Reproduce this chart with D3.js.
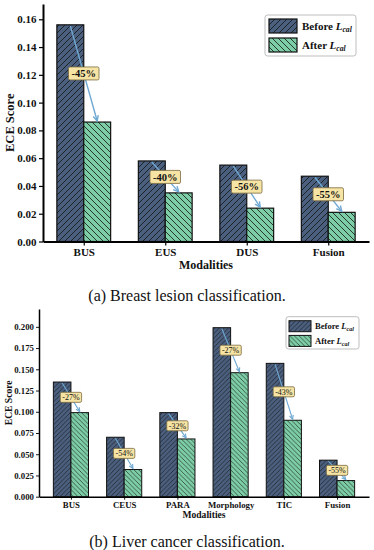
<!DOCTYPE html>
<html>
<head>
<meta charset="utf-8">
<script src="https://cdn.jsdelivr.net/npm/d3@7"></script>
<style>
    body { margin: 0; background: #fff; }
</style>
</head>
<body>
<div class="osvg"></div>
<script>
// (a) breast lesion
var breastCats = ["BUS", "EUS", "DUS", "Fusion"];
var breastBefore = [0.156, 0.058, 0.055, 0.047];
var breastAfter = [0.086, 0.035, 0.024, 0.021];
var breastDrops = ["-45%", "-40%", "-56%", "-55%"];
var breastTicks = [0, 0.02, 0.04, 0.06, 0.08, 0.10, 0.12, 0.14, 0.16];

// (b) liver cancer
var liverCats = ["BUS", "CEUS", "PARA", "Morphology", "TIC", "Fusion"];
var liverBefore = [0.135, 0.070, 0.099, 0.199, 0.157, 0.043];
var liverAfter = [0.099, 0.032, 0.068, 0.146, 0.090, 0.019];
var liverDrops = ["-27%", "-54%", "-32%", "-27%", "-43%", "-55%"];
var liverTicks = [0, 0.025, 0.05, 0.075, 0.1, 0.125, 0.15, 0.175, 0.2];

var colBefore = "#4b5f7e";
var colAfter = "#7dcea6";
var FONT = '"Liberation Serif", "Times New Roman", "DejaVu Serif"';

var svg = d3.select('.osvg').append("svg")
    .attr("width", 374)
    .attr("height", 550)
    .style("font-family", FONT);

var defs = svg.append("defs");

function hatch(id, color, size, dir, sw) {
    var p = defs.append("pattern")
        .attr("id", id)
        .attr("patternUnits", "userSpaceOnUse")
        .attr("width", size)
        .attr("height", size);
    p.append("rect").attr("width", size).attr("height", size).attr("fill", color);
    var s = size, d;
    if (dir == "/") {
        d = "M0," + s + "L" + s + ",0M" + (-s / 2) + "," + (s / 2) + "L" + (s / 2) + "," + (-s / 2) +
            "M" + (s / 2) + "," + (1.5 * s) + "L" + (1.5 * s) + "," + (s / 2);
    } else {
        d = "M0,0L" + s + "," + s + "M" + (-s / 2) + "," + (s / 2) + "L" + (s / 2) + "," + (1.5 * s) +
            "M" + (s / 2) + "," + (-s / 2) + "L" + (1.5 * s) + "," + (s / 2);
    }
    p.append("path").attr("d", d).attr("stroke", "#111").attr("stroke-width", sw).attr("fill", "none");
}

hatch("hb1", colBefore, 6, "/", 0.8);
hatch("ha1", colAfter, 6, "\\", 0.8);
hatch("hb2", colBefore, 4.6, "/", 0.6);
hatch("ha2", colAfter, 4.6, "\\", 0.6);

function txt(sel) {
    return sel.append("text").style("font-family", FONT).attr("fill", "#111");
}

function panel(c) {
    var x = d3.scaleLinear()
        .domain([-c.xpad, c.cats.length - 1 + c.xpad])
        .range([c.left, c.right]);

    var y = d3.scaleLinear()
        .domain([0, c.ymax])
        .range([c.bottom, c.top]);

    var w = x(c.barW) - x(0);
    var g = svg.append("g");

    // bars
    var rows = c.cats.map(function (d, i) {
        return { i: i, b: c.before[i], a: c.after[i], drop: c.drops[i] };
    });

    g.selectAll(".bb").data(rows).enter().append("rect")
        .attr("x", function (d) { return x(d.i) - w; })
        .attr("y", function (d) { return y(d.b); })
        .attr("width", w)
        .attr("height", function (d) { return y(0) - y(d.b); })
        .attr("fill", "url(#" + c.hb + ")")
        .attr("stroke", "#111")
        .attr("stroke-width", c.barSW);

    g.selectAll(".ba").data(rows).enter().append("rect")
        .attr("x", function (d) { return x(d.i); })
        .attr("y", function (d) { return y(d.a); })
        .attr("width", w)
        .attr("height", function (d) { return y(0) - y(d.a); })
        .attr("fill", "url(#" + c.ha + ")")
        .attr("stroke", "#111")
        .attr("stroke-width", c.barSW);

    // arrows
    rows.forEach(function (d) {
        var x0 = x(d.i) - w / 2, y0 = y(d.b) + 1,
            x1 = x(d.i) + w / 2, y1 = y(d.a) - 1;
        var ang = Math.atan2(y1 - y0, x1 - x0);
        var hl = c.head;
        g.append("line")
            .attr("x1", x0).attr("y1", y0)
            .attr("x2", x1).attr("y2", y1)
            .attr("stroke", "#6fa9d4")
            .attr("stroke-width", c.arrowSW);
        var p1 = [x1 - hl * Math.cos(ang - 0.45), y1 - hl * Math.sin(ang - 0.45)];
        var p2 = [x1 - hl * Math.cos(ang + 0.45), y1 - hl * Math.sin(ang + 0.45)];
        g.append("path")
            .attr("d", "M" + p1 + "L" + x1 + "," + y1 + "L" + p2)
            .attr("fill", "none")
            .attr("stroke", "#6fa9d4")
            .attr("stroke-width", c.arrowSW);

        // label box at the middle of the arrow
        var mx = (x0 + x1) / 2, my = (y0 + y1) / 2;
        var box = g.append("rect");
        var t = txt(g)
            .attr("x", mx)
            .attr("y", my)
            .attr("dy", "0.35em")
            .attr("text-anchor", "middle")
            .attr("font-size", c.labelFS)
            .attr("font-weight", c.labelFW)
            .text(d.drop);
        var tw = t.node().getComputedTextLength();
        box.attr("x", mx - tw / 2 - c.boxPad)
            .attr("y", my - c.boxH / 2)
            .attr("width", tw + 2 * c.boxPad)
            .attr("height", c.boxH)
            .attr("rx", 1.5)
            .attr("fill", "#f6e4a4")
            .attr("stroke", "#7a6a40")
            .attr("stroke-width", 0.8);
    });

    // axes
    var gx = g.append("g")
        .attr("transform", "translate(0," + c.bottom + ")")
        .call(d3.axisBottom(x)
            .tickValues(d3.range(c.cats.length))
            .tickFormat(function (i) { return c.cats[i]; })
            .tickSizeInner(c.tick)
            .tickSizeOuter(0)
            .tickPadding(c.tickPad));

    var gy = g.append("g")
        .attr("transform", "translate(" + c.left + ",0)")
        .call(d3.axisLeft(y)
            .tickValues(c.ticks)
            .tickFormat(d3.format(c.fmt))
            .tickSizeInner(c.tick)
            .tickSizeOuter(0)
            .tickPadding(c.tickPad));

    [gx, gy].forEach(function (a) {
        a.select(".domain").attr("stroke", "#000").attr("stroke-width", c.spineW);
        a.selectAll(".tick line").attr("stroke", "#000").attr("stroke-width", c.spineW * 0.6);
        a.selectAll(".tick text")
            .attr("fill", "#111")
            .attr("font-size", c.tickFS)
            .attr("font-weight", "bold")
            .style("font-family", FONT);
    });

    txt(g)
        .attr("x", (c.left + c.right) / 2)
        .attr("y", c.xlabY)
        .attr("text-anchor", "middle")
        .attr("font-size", c.labFS)
        .attr("font-weight", "bold")
        .text("Modalities");

    txt(g)
        .attr("transform", "translate(" + c.ylabX + "," + ((c.top + c.bottom) / 2) + ") rotate(-90)")
        .attr("text-anchor", "middle")
        .attr("font-size", c.ylabFS)
        .attr("font-weight", "bold")
        .text("ECE Score");

    // legend
    var L = c.legend;
    g.append("rect")
        .attr("x", L.x).attr("y", L.y)
        .attr("width", L.w).attr("height", L.h)
        .attr("rx", 2.5)
        .attr("fill", "#fff")
        .attr("stroke", "#b5b5b5")
        .attr("stroke-width", 0.9);

    [["Before ", c.hb], ["After ", c.ha]].forEach(function (e, k) {
        var py = L.y + L.py0 + k * L.step;
        g.append("rect")
            .attr("x", L.x + L.px).attr("y", py)
            .attr("width", L.pw).attr("height", L.ph)
            .attr("fill", "url(#" + e[1] + ")")
            .attr("stroke", "#111")
            .attr("stroke-width", c.barSW);
        var t = txt(g)
            .attr("x", L.x + L.px + L.pw + L.gap)
            .attr("y", py + L.ph / 2)
            .attr("dy", "0.35em")
            .attr("font-size", L.fs)
            .attr("font-weight", "bold");
        t.append("tspan").text(e[0]);
        t.append("tspan").attr("font-style", "italic").text("L");
        t.append("tspan")
            .attr("font-style", "italic")
            .attr("font-size", L.fs * 0.7)
            .attr("dy", L.fs * 0.22)
            .text("cal");
    });

    txt(svg)
        .attr("x", 187)
        .attr("y", c.capY)
        .attr("text-anchor", "middle")
        .attr("font-size", 16)
        .text(c.caption);
}

panel({
    cats: breastCats, before: breastBefore, after: breastAfter, drops: breastDrops,
    ticks: breastTicks, fmt: ".2f",
    left: 43, right: 369, top: 4, bottom: 241.5, xpad: 0.5, ymax: 0.171,
    barW: 0.33, barSW: 1.2, hb: "hb1", ha: "ha1",
    arrowSW: 1.4, head: 6, labelFS: 10.5, labelFW: "bold", boxPad: 3, boxH: 13,
    tick: 4, tickPad: 2.5, spineW: 2, tickFS: 11,
    xlabY: 268.5, labFS: 12, ylabX: 14, ylabFS: 12.5,
    legend: { x: 265, y: 15, w: 91, h: 41, px: 4, pw: 28, ph: 14, py0: 4, step: 19, gap: 5, fs: 11 },
    capY: 300.5, caption: "(a) Breast lesion classification."
});

panel({
    cats: liverCats, before: liverBefore, after: liverAfter, drops: liverDrops,
    ticks: liverTicks, fmt: ".3f",
    left: 39, right: 369, top: 309, bottom: 496.7, xpad: 0.6, ymax: 0.221,
    barW: 0.33, barSW: 1, hb: "hb2", ha: "ha2",
    arrowSW: 1.1, head: 4.5, labelFS: 8, labelFW: "normal", boxPad: 2, boxH: 10,
    tick: 3, tickPad: 2, spineW: 1.5, tickFS: 8.8,
    xlabY: 517.5, labFS: 9.6, ylabX: 12, ylabFS: 9.6,
    legend: { x: 286, y: 316.7, w: 73, h: 32.3, px: 3, pw: 22, ph: 11, py0: 4, step: 14.7, gap: 4, fs: 8.6 },
    capY: 546.5, caption: "(b) Liver cancer classification."
});
</script>
</body>
</html>
